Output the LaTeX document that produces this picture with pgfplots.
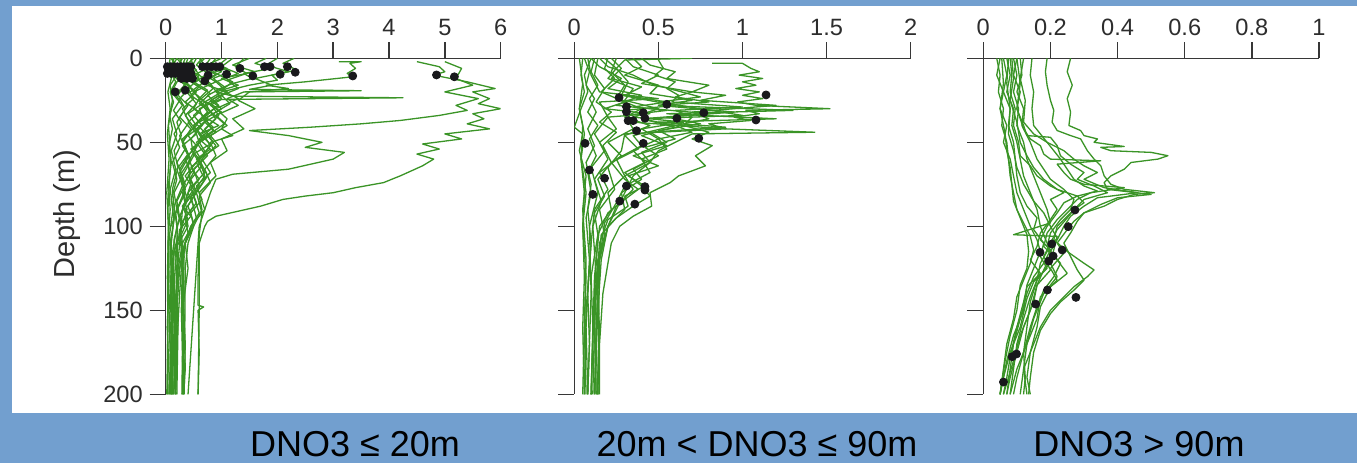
\documentclass[border=0pt]{standalone}
\usepackage{fontspec}
\setmainfont{Liberation Sans}
\usepackage{pgfplots}
\pgfplotsset{compat=1.18}
\definecolor{bgblue}{RGB}{114,159,207}
\definecolor{pgreen}{RGB}{58,148,38}
\definecolor{axc}{RGB}{55,55,55}
\definecolor{tlc}{RGB}{45,45,45}
\definecolor{dotc}{RGB}{25,25,28}
\pgfplotsset{
  prof/.style={
    scale only axis, height=168pt, y dir=reverse, ymin=0, ymax=200,
    axis x line=top, axis y line=left,
    axis line style={-, draw=axc, line width=0.7pt},
    tick align=outside, major tick length=8pt,
    tick style={draw=axc, line width=0.7pt},
    ytick={0,50,100,150,200},
    ticklabel style={font=\fontsize{11.8}{13}\selectfont, text=tlc},
    /pgf/number format/assume math mode=true,
  },
  gl/.style={pgreen, line width=0.65pt, no marks, line join=round},
  dots/.style={only marks, mark=*, mark size=2pt, color=dotc, mark options={draw=dotc, fill=dotc}},
}
\begin{document}
\begin{tikzpicture}[x=1pt,y=1pt]
\fill[bgblue] (0,0) rectangle (678.5,231.5);
\fill[white] (6,25) rectangle (678.5,228.5);
% ---------------- Panel 1 ----------------
\begin{axis}[prof, at={(82.85pt,34.35pt)}, anchor=south west, width=167.5pt,
  xmin=0, xmax=6, xtick={0,1,2,3,4,5,6}]
\addplot[gl] coordinates {(0.2,0)(0.15,3)(0.25,6)(0.1,9)(0.18,14)(0.08,20)(0.14,26)(0.07,34)(0.12,42)(0.06,52)(0.1,62)(0.05,75)(0.08,90)(0.04,110)(0.06,130)(0.03,160)(0.05,180)(0.03,200)};
\addplot[gl] coordinates {(0.5,0)(0.4,3)(0.55,7)(0.3,12)(0.45,17)(0.25,24)(0.35,30)(0.2,38)(0.28,46)(0.15,55)(0.22,65)(0.12,78)(0.16,92)(0.1,110)(0.12,130)(0.09,160)(0.11,185)(0.1,200)};
\addplot[gl] coordinates {(0.9,0)(0.8,4)(1.0,8)(0.7,13)(0.85,18)(0.6,25)(0.75,32)(0.5,40)(0.65,48)(0.4,58)(0.5,68)(0.3,80)(0.38,90)(0.25,105)(0.3,120)(0.28,150)(0.3,175)(0.29,200)};
\addplot[gl] coordinates {(1.2,0)(1.0,5)(1.3,9)(0.9,14)(1.1,20)(0.8,27)(0.95,34)(0.7,42)(0.85,50)(0.6,60)(0.75,70)(0.55,80)(0.65,92)(0.6,105)(0.58,130)(0.58,147)(0.68,148)(0.58,150)(0.6,175)(0.58,200)};
\addplot[gl] coordinates {(0.35,0)(0.3,4)(0.45,8)(0.2,12)(0.35,16)(0.15,22)(0.3,28)(0.12,36)(0.2,45)(0.1,55)(0.18,66)(0.08,78)(0.13,90)(0.07,105)(0.1,125)(0.06,150)(0.08,175)(0.07,200)};
\addplot[gl] coordinates {(0.7,0)(0.6,3)(0.75,6)(0.5,10)(0.65,15)(0.4,21)(0.55,27)(0.35,34)(0.5,41)(0.3,50)(0.42,58)(0.25,68)(0.35,78)(0.2,90)(0.28,100)(0.18,115)(0.2,140)(0.15,170)(0.17,185)(0.14,200)};
\addplot[gl] coordinates {(1.5,0)(1.2,4)(1.6,8)(1.0,12)(1.3,16)(0.9,20)(1.2,22.5)(4.25,23.5)(1.0,24.5)(0.8,28)(1.0,32)(0.7,38)(0.9,44)(0.6,50)(0.75,58)(0.5,66)(0.6,76)(0.4,88)(0.5,98)(0.35,110)(0.4,125)(0.32,145)(0.35,170)(0.33,200)};
\addplot[gl] coordinates {(2.0,0)(1.8,4)(2.2,8)(1.6,12)(1.9,16)(1.5,18.5)(3.5,19.3)(1.4,20)(1.1,24)(1.3,28)(0.9,34)(1.1,40)(0.8,46)(0.95,52)(0.6,60)(0.7,70)(0.45,82)(0.55,95)(0.3,110)(0.2,130)(0.15,160)(0.12,200)};
\addplot[gl] coordinates {(3.1,2)(3.5,2)(3.3,3)(3.4,6)(3.25,9)(3.35,11)(2.5,14)(1.8,16)(2.2,18)(1.5,20)(1.3,25)(1.6,30)(1.2,36)(1.4,42)(1.0,48)(1.1,55)(0.8,62)(0.9,70)(0.6,80)(0.7,90)(0.45,100)(0.3,115)(0.25,140)(0.2,170)(0.18,200)};
\addplot[gl] coordinates {(2.3,0)(2.1,3)(2.35,7)(1.9,10)(2.0,13)(1.5,16)(1.0,20)(0.7,26)(0.8,32)(0.5,40)(0.6,50)(0.4,62)(0.45,75)(0.3,90)(0.25,110)};
\addplot[gl] coordinates {(1.8,0)(1.6,3)(1.9,6)(1.4,9)(1.55,12)(1.2,15)(0.9,19)(1.0,24)(0.6,30)(0.7,38)(0.45,48)(0.5,58)(0.3,70)(0.35,85)(0.2,100)(0.22,130)(0.12,160)(0.1,200)};
\addplot[gl] coordinates {(1.0,0)(0.8,3)(1.1,6)(0.7,10)(0.9,14)(0.5,20)(0.7,26)(0.4,33)(0.55,40)(0.3,48)(0.4,57)(0.2,66)(0.3,76)(0.15,88)(0.2,100)(0.1,120)(0.12,150)(0.08,200)};
\addplot[gl] coordinates {(0.15,0)(0.1,5)(0.2,10)(0.08,16)(0.12,25)(0.05,40)(0.09,60)(0.04,90)(0.06,120)(0.03,160)(0.04,200)};
\addplot[gl] coordinates {(0.45,0)(0.5,5)(0.6,10)(0.8,15)(0.95,22)(0.7,28)(0.9,36)(0.65,44)(0.8,52)(0.55,62)(0.7,72)(0.5,82)(0.6,92)(0.45,100)(0.35,110)(0.3,125)(0.31,160)(0.3,200)};
\addplot[gl] coordinates {(0.6,0)(0.7,4)(0.9,9)(1.2,14)(1.0,19)(1.3,24)(0.9,30)(1.1,36)(1.0,42)(1.2,46)(0.8,50)(0.9,58)(0.7,66)(0.8,74)(0.6,82)(0.65,90)(0.5,100)(0.4,110)(0.35,125)(0.34,170)(0.35,185)(0.32,200)};
\addplot[gl] coordinates {(0.25,0)(0.3,5)(0.2,10)(0.35,15)(0.22,22)(0.4,28)(0.25,35)(0.45,42)(0.3,50)(0.4,58)(0.25,66)(0.35,75)(0.2,85)(0.25,95)(0.15,108)(0.14,130)(0.12,160)(0.13,200)};
\addplot[gl] coordinates {(0.8,0)(0.7,5)(0.9,10)(0.65,15)(1.1,20)(0.8,25)(1.0,30)(0.7,36)(0.85,43)(0.55,50)(0.7,57)(0.45,65)(0.6,72)(0.4,80)(0.5,88)(0.3,97)(0.25,110)(0.2,130)(0.18,160)(0.17,200)};
\addplot[gl] coordinates {(0.1,0)(0.2,6)(0.3,12)(0.45,18)(0.6,24)(0.5,30)(0.75,36)(0.55,42)(0.7,48)(0.45,54)(0.6,60)(0.35,70)(0.5,78)(0.3,88)(0.4,96)(0.28,105)(0.33,118)(0.31,150)(0.32,200)};
\addplot[gl] coordinates {(0.55,0)(0.45,6)(0.6,12)(0.4,18)(0.5,24)(0.3,30)(0.42,38)(0.25,46)(0.35,54)(0.2,62)(0.3,70)(0.15,80)(0.2,90)(0.1,100)};
\addplot[gl] coordinates {(0.4,0)(0.35,4)(0.5,9)(0.3,14)(0.55,20)(0.35,26)(0.6,32)(0.4,38)(0.55,45)(0.3,52)(0.45,60)(0.25,70)(0.35,80)(0.18,92)(0.22,105)(0.12,120)(0.14,150)(0.1,175)(0.12,200)};
\addplot[gl] coordinates {(0.65,0)(0.55,4)(0.75,9)(0.5,15)(0.8,21)(0.6,27)(0.85,33)(0.55,39)(0.75,46)(0.5,53)(0.65,61)(0.4,70)(0.55,79)(0.3,88)(0.45,94)(0.25,102)(0.3,115)(0.2,135)(0.22,160)(0.2,200)};
\addplot[gl] coordinates {(0.12,0)(0.18,4)(0.1,8)(0.22,13)(0.12,19)(0.25,25)(0.14,31)(0.28,38)(0.15,45)(0.25,53)(0.12,62)(0.2,72)(0.1,84)(0.15,96)(0.08,110)(0.1,130)(0.07,160)(0.09,180)(0.06,200)};
\addplot[gl] coordinates {(1.1,0)(0.95,4)(1.15,8)(0.85,12)(1.05,17)(0.75,22)(0.95,28)(0.65,35)(0.85,41)(0.6,48)(0.8,54)(0.55,60)(0.7,68)(0.45,77)(0.55,86)(0.35,95)(0.4,104)(0.3,115)(0.33,140)(0.3,170)(0.31,200)};
\addplot[gl] coordinates {(0.3,0)(0.25,3)(0.4,7)(0.6,10)(0.5,14)(0.75,19)(0.6,24)(0.9,29)(0.7,35)(0.95,40)(0.6,45)(0.8,51)(0.5,57)(0.65,64)(0.45,72)(0.55,80)(0.35,90)(0.4,100)(0.2,112)(0.16,130)(0.15,200)};
\addplot[gl] coordinates {(0.08,0)(0.05,6)(0.1,12)(0.04,20)(0.08,30)(0.03,45)(0.06,60)(0.02,80)(0.05,100)(0.03,130)(0.04,160)(0.02,200)};
\addplot[gl] coordinates {(1.4,0)(1.25,5)(1.45,9)(1.1,13)(1.3,18)(1.0,22)(1.15,27)(0.85,33)(1.05,39)(0.75,46)(0.9,52)(0.65,60)(0.8,68)(0.55,76)(0.65,84)(0.45,92)(0.5,100)(0.35,110)(0.25,125)(0.2,150)(0.18,200)};
\addplot[gl] coordinates {(0.2,0)(0.3,4)(0.45,8)(0.35,12)(0.6,17)(0.45,22)(0.7,28)(0.5,34)(0.65,40)(0.4,46)(0.55,52)(0.35,60)(0.45,68)(0.3,76)(0.4,84)(0.25,94)(0.3,100)(0.15,115)(0.11,140)(0.1,200)};
% high profiles
\addplot[gl] coordinates {(4.5,2)(4.9,5)(5.0,8)(4.8,10)(5.4,14)(5.9,18)(5.5,20)(5.8,24)(5.6,27)(6.0,30)(5.5,33)(5.7,36)(5.4,39)(5.8,42)(5.0,45)(5.3,48)(4.6,51)(4.9,54)(4.5,57)(4.8,60)(4.6,64)(4.2,70)(3.9,74)(3.4,77)(3.0,80)(2.5,82)(2.1,84)(1.7,88)(1.3,91)(0.9,94)(0.75,97)(0.7,100)(0.6,110)(0.6,150)(0.58,200)};
\addplot[gl] coordinates {(5.0,2)(5.3,6)(5.2,12)(5.5,16)(5.0,20)(5.6,24)(5.2,28)(5.4,31)(4.9,34)(4.2,37)(3.5,39)(2.6,41)(1.5,43)(2.2,46)(2.8,50)(2.5,53)(3.2,56)(3.0,60)(2.6,63)(2.2,66)(1.2,69)(0.9,72)(0.8,80)(0.6,100)(0.5,150)(0.4,200)};
\addplot[dots] coordinates {(0.03,5)(0.09,5)(0.15,5)(0.21,5)(0.27,5)(0.33,5)(0.39,5)(0.45,5)(0.66,5)(0.74,5)(0.82,5)(0.9,5)(0.97,5)(1.77,5)(1.87,5)(2.18,5)(1.33,6)
(0.03,9)(0.1,9)(0.17,9)(0.24,9)(0.31,9)(0.38,9)(0.45,9)(1.09,9.5)(2.05,9.5)(2.32,8.3)
(0.76,10)(1.56,10.5)(3.35,10.5)(4.85,9.9)(5.17,11)(0.28,12)(0.38,12)(0.48,12)(0.7,13.5)(0.17,20)(0.35,19)};
\end{axis}
% ---------------- Panel 2 ----------------
\begin{axis}[prof, at={(287.15pt,34.35pt)}, anchor=south west, width=168.2pt,
  xmin=0, xmax=2, xtick={0,0.5,1,1.5,2}, yticklabels={}]
\addplot[gl] coordinates {(0.05,0)(0.04,10)(0.06,20)(0.03,30)(0.05,40)(0.04,60)(0.06,80)(0.05,100)(0.06,130)(0.05,160)(0.06,200)};
\addplot[gl] coordinates {(0.12,0)(0.1,8)(0.14,16)(0.09,24)(0.13,32)(0.08,42)(0.12,52)(0.07,62)(0.1,75)(0.08,90)(0.1,110)(0.08,140)(0.09,170)(0.08,200)};
\addplot[gl] coordinates {(0.2,0)(0.18,6)(0.24,12)(0.16,20)(0.3,26)(0.18,30)(0.45,33)(0.2,35)(0.25,42)(0.15,50)(0.2,60)(0.12,72)(0.16,85)(0.11,100)(0.13,130)(0.12,160)(0.13,200)};
\addplot[gl] coordinates {(0.7,0)(0.3,1)(0.25,6)(0.32,14)(0.28,22)(0.6,28)(0.3,31)(0.35,38)(0.9,42)(0.3,45)(0.28,55)(0.2,65)(0.24,78)(0.15,90)(0.18,105)(0.13,130)(0.15,160)(0.14,200)};
\addplot[gl] coordinates {(0.5,1)(0.53,6)(0.48,10)(0.6,14)(0.55,18)(0.62,22)(0.58,26)(1.0,29)(0.6,31)(0.7,35)(0.65,40)(0.8,44)(0.7,48)(0.82,52)(0.72,58)(0.78,64)(0.62,70)(0.57,74)(0.45,80)(0.46,88)(0.35,94)(0.27,100)(0.22,110)(0.17,140)(0.15,170)(0.15,200)};
\addplot[gl] coordinates {(0.82,3)(1.0,3)(1.05,6)(1.1,8)(0.98,10)(1.12,12)(1.0,14)(1.08,16)(0.96,18)(1.1,20)(1.0,22)(1.12,24)(0.97,26)(1.08,28)(1.52,30)(1.02,31)(1.1,33)(0.95,35)(1.05,37)(0.8,39)(0.9,42)(1.43,44)(0.7,45)(0.6,50)(0.5,55)(0.45,62)(0.35,70)(0.3,80)(0.25,90)(0.2,100)(0.16,120)(0.14,150)(0.12,200)};
\addplot[gl] coordinates {(0.3,0)(0.35,5)(0.5,10)(0.4,15)(0.7,20)(0.6,23)(0.8,26)(0.5,28)(1.3,31)(0.55,33)(1.2,36)(0.5,38)(0.9,41)(0.45,44)(0.55,50)(0.4,56)(0.45,62)(0.3,70)(0.35,78)(0.25,88)(0.2,100)(0.14,120)(0.12,160)(0.11,200)};
\addplot[gl] coordinates {(0.15,0)(0.2,5)(0.35,10)(0.45,15)(0.6,19)(0.75,23)(0.5,26)(1.0,34)(0.4,36)(0.6,40)(0.35,46)(0.4,52)(0.25,60)(0.3,70)(0.2,80)(0.22,90)(0.15,100)(0.12,130)(0.1,200)};
\addplot[gl] coordinates {(0.08,0)(0.1,10)(0.15,20)(0.5,24)(0.15,26)(0.2,35)(0.12,45)(0.18,55)(0.1,65)(0.14,80)(0.09,100)(0.1,140)(0.08,200)};
\addplot[gl] coordinates {(0.25,0)(0.22,8)(0.3,16)(0.25,24)(0.4,30)(0.3,35)(0.45,40)(0.3,46)(0.38,54)(0.22,62)(0.3,72)(0.38,78)(0.3,84)(0.2,92)(0.14,105)(0.12,140)(0.1,200)};
\addplot[gl] coordinates {(0.1,0)(0.15,5)(0.28,12)(0.2,18)(0.4,22)(0.25,28)(0.55,31)(0.3,34)(0.35,42)(0.2,50)(0.28,58)(0.15,68)(0.2,78)(0.12,90)(0.1,110)(0.07,150)(0.06,200)};
\addplot[gl] coordinates {(0.18,0)(0.25,6)(0.2,12)(0.35,18)(0.3,25)(0.5,30)(0.35,35)(0.65,38)(0.4,42)(0.5,48)(0.35,55)(0.42,62)(0.3,68)(0.4,76)(0.45,82)(0.35,88)(0.25,95)(0.16,105)(0.14,130)(0.13,170)(0.14,200)};
\addplot[gl] coordinates {(0.4,0)(0.45,4)(0.6,8)(0.55,12)(0.8,16)(0.7,20)(0.9,22)(0.75,25)(1.2,28)(0.7,32)(0.8,36)(0.6,40)(0.7,44)(0.5,48)(0.55,54)(0.4,60)(0.45,68)(0.3,76)(0.25,86)(0.18,98)(0.15,120)(0.13,160)(0.12,200)};
\addplot[gl] coordinates {(0.1,0)(0.06,10)(0.08,20)(0.04,30)(0.0,41)(0.05,45)(0.03,55)(0.07,70)(0.05,90)(0.07,120)(0.06,160)(0.07,200)};
\addplot[gl] coordinates {(0.03,0)(0.05,15)(0.03,30)(0.06,45)(0.04,60)(0.07,80)(0.05,100)(0.07,130)(0.06,160)(0.05,200)};
\addplot[gl] coordinates {(0.14,0)(0.12,10)(0.18,18)(0.13,26)(0.22,32)(0.15,38)(0.25,44)(0.17,52)(0.22,62)(0.14,72)(0.18,82)(0.12,92)(0.14,105)(0.1,130)(0.11,160)(0.1,200)};
\addplot[gl] coordinates {(0.22,0)(0.28,6)(0.22,12)(0.4,17)(0.3,22)(0.55,26)(0.35,29)(0.8,33)(0.4,36)(0.6,41)(0.4,46)(0.55,52)(0.35,58)(0.5,64)(0.32,70)(0.42,76)(0.3,82)(0.32,88)(0.2,96)(0.15,110)(0.12,150)(0.13,200)};
\addplot[gl] coordinates {(0.06,0)(0.09,8)(0.07,16)(0.12,24)(0.08,32)(0.14,40)(0.09,48)(0.13,58)(0.08,68)(0.1,80)(0.07,95)(0.09,120)(0.07,160)(0.08,200)};
\addplot[gl] coordinates {(0.35,0)(0.4,5)(0.3,10)(0.5,16)(0.45,21)(0.7,25)(0.5,28)(0.95,32)(0.55,35)(0.75,39)(0.5,43)(0.6,48)(0.42,53)(0.5,58)(0.35,66)(0.4,72)(0.28,80)(0.3,90)(0.2,100)(0.15,120)(0.14,200)};
\addplot[dots] coordinates {(0.266,23.4)(0.31,28.8)(0.31,31.8)(0.41,32.4)(0.42,35.7)(0.32,37.1)(0.35,37.1)(0.55,27.4)(0.77,32.4)(0.61,35.7)(1.14,21.8)(1.08,36.7)(0.37,43.1)(0.74,47.6)(0.064,50.6)(0.41,50.6)(0.09,66.5)(0.18,71.4)(0.31,76)(0.42,76.4)(0.42,78.4)(0.11,81)(0.27,85)(0.36,86.8)};
\end{axis}
% ---------------- Panel 3 ----------------
\begin{axis}[prof, at={(491.65pt,34.35pt)}, anchor=south west, width=167.85pt,
  xmin=0, xmax=1, xtick={0,0.2,0.4,0.6,0.8,1}, yticklabels={}]
\addplot[gl] coordinates {(0.26,0)(0.25,8)(0.265,16)(0.25,24)(0.26,32)(0.255,40)(0.29,43)(0.3,46)(0.34,48)(0.33,50)(0.42,52.5)(0.35,53)(0.38,55)(0.5,56)(0.55,58)(0.52,60)(0.44,62)(0.42,66)(0.38,70)(0.36,74)(0.37,78)(0.5,81)(0.4,83)(0.35,87)(0.3,92)(0.27,97)(0.25,102)(0.22,110)(0.24,116)(0.2,125)(0.22,132)(0.17,142)(0.16,155)(0.13,170)(0.12,185)(0.13,200)};
\addplot[gl] coordinates {(0.19,0)(0.185,8)(0.19,16)(0.2,25)(0.21,31)(0.205,38)(0.22,43)(0.26,46)(0.29,48)(0.31,55)(0.33,60)(0.35,64)(0.36,70)(0.38,75)(0.42,78)(0.51,80)(0.45,81)(0.4,84)(0.36,88)(0.3,92)(0.28,97)(0.26,104)(0.24,110)(0.26,118)(0.28,126)(0.3,132)(0.27,138)(0.23,145)(0.2,152)(0.17,162)(0.15,175)(0.14,190)(0.135,200)};
\addplot[gl] coordinates {(0.145,0)(0.14,10)(0.15,20)(0.145,30)(0.15,40)(0.17,45)(0.19,50)(0.21,55)(0.23,60)(0.25,66)(0.27,72)(0.3,76)(0.34,79)(0.28,82)(0.3,86)(0.27,90)(0.25,95)(0.22,102)(0.2,110)(0.18,118)(0.2,126)(0.16,135)(0.15,145)(0.12,160)(0.1,175)(0.08,190)(0.07,200)};
\addplot[gl] coordinates {(0.05,0)(0.04,10)(0.06,20)(0.05,30)(0.07,40)(0.06,50)(0.08,60)(0.09,70)(0.1,80)(0.12,90)(0.14,100)(0.16,108)(0.17,115)(0.15,125)(0.13,135)(0.12,150)(0.09,165)(0.07,180)(0.05,200)};
\addplot[gl] coordinates {(0.07,0)(0.08,10)(0.07,20)(0.09,30)(0.085,40)(0.1,50)(0.11,60)(0.12,70)(0.14,80)(0.16,90)(0.17,100)(0.19,110)(0.2,118)(0.18,126)(0.16,135)(0.14,150)(0.11,165)(0.09,180)(0.06,200)};
\addplot[gl] coordinates {(0.09,0)(0.1,10)(0.09,20)(0.105,30)(0.1,40)(0.12,50)(0.13,60)(0.15,70)(0.17,80)(0.19,90)(0.2,98)(0.09,105)(0.22,106)(0.21,114)(0.2,122)(0.22,130)(0.18,140)(0.15,155)(0.13,170)(0.1,185)(0.08,200)};
\addplot[gl] coordinates {(0.11,0)(0.115,10)(0.1,20)(0.12,30)(0.115,40)(0.14,50)(0.16,60)(0.18,66)(0.2,72)(0.24,78)(0.27,84)(0.26,90)(0.23,96)(0.2,104)(0.19,112)(0.22,120)(0.25,128)(0.2,136)(0.17,148)(0.16,160)(0.14,175)(0.13,190)(0.14,200)};
\addplot[gl] coordinates {(0.06,0)(0.07,10)(0.06,20)(0.08,30)(0.075,40)(0.09,50)(0.095,60)(0.1,70)(0.11,80)(0.13,88)(0.16,95)(0.15,102)(0.18,110)(0.17,118)(0.19,125)(0.15,133)(0.13,143)(0.11,160)(0.08,175)(0.06,190)(0.05,200)};
\addplot[gl] coordinates {(0.1,0)(0.09,10)(0.11,20)(0.1,30)(0.12,40)(0.13,46)(0.2,47)(0.22,52)(0.23,58)(0.26,63)(0.3,68)(0.28,72)(0.33,76)(0.37,80)(0.3,84)(0.28,88)(0.25,94)(0.22,100)(0.21,108)(0.25,115)(0.3,122)(0.33,126)(0.31,130)(0.27,136)(0.24,142)(0.2,150)(0.17,160)(0.15,170)(0.12,185)(0.11,200)};
\addplot[gl] coordinates {(0.08,0)(0.085,10)(0.08,20)(0.095,30)(0.09,40)(0.105,50)(0.11,58)(0.14,64)(0.16,70)(0.2,76)(0.24,80)(0.2,84)(0.22,90)(0.2,96)(0.17,104)(0.16,112)(0.14,120)(0.17,128)(0.13,136)(0.12,145)(0.1,160)(0.08,178)(0.07,190)(0.06,200)};
\addplot[gl] coordinates {(0.04,0)(0.05,10)(0.045,20)(0.06,30)(0.055,40)(0.07,50)(0.075,60)(0.08,70)(0.09,80)(0.1,90)(0.12,98)(0.14,106)(0.15,114)(0.14,122)(0.12,132)(0.1,142)(0.09,155)(0.07,170)(0.06,185)(0.05,200)};
\addplot[gl] coordinates {(0.1,0)(0.11,15)(0.1,30)(0.12,42)(0.14,48)(0.17,52)(0.18,57)(0.2,60)(0.35,61)(0.22,63)(0.24,68)(0.26,72)(0.3,75)(0.42,77)(0.32,80)(0.28,84)(0.25,90)(0.22,96)(0.19,104)(0.18,112)(0.21,118)(0.19,124)(0.16,132)(0.14,142)(0.12,155)(0.1,170)(0.09,185)(0.08,200)};
\addplot[gl] coordinates {(0.075,0)(0.07,15)(0.08,30)(0.075,45)(0.09,55)(0.1,65)(0.12,75)(0.15,85)(0.18,92)(0.2,100)(0.22,107)(0.19,115)(0.17,122)(0.16,132)(0.14,145)(0.13,160)(0.12,175)(0.125,190)(0.12,200)};
\addplot[gl] coordinates {(0.085,0)(0.09,12)(0.08,25)(0.1,38)(0.11,50)(0.13,58)(0.15,65)(0.18,72)(0.22,78)(0.28,82)(0.24,86)(0.22,92)(0.19,100)(0.17,108)(0.2,114)(0.18,122)(0.15,130)(0.13,140)(0.11,155)(0.09,170)(0.08,185)(0.07,200)};
\addplot[gl] coordinates {(0.12,0)(0.11,12)(0.125,25)(0.12,38)(0.15,45)(0.19,50)(0.24,55)(0.27,60)(0.3,64)(0.34,68)(0.3,72)(0.36,77)(0.46,80)(0.34,83)(0.3,88)(0.26,94)(0.24,100)(0.22,108)(0.2,115)(0.23,122)(0.21,130)(0.18,138)(0.16,148)(0.14,160)(0.12,175)(0.1,190)(0.09,200)};
\addplot[gl] coordinates {(0.055,0)(0.06,15)(0.05,30)(0.065,45)(0.07,55)(0.08,65)(0.085,75)(0.09,85)(0.11,95)(0.13,105)(0.135,115)(0.13,125)(0.11,135)(0.1,150)(0.08,165)(0.065,180)(0.05,200)};
\addplot[dots] coordinates {(0.273,90.3)(0.253,100.2)(0.204,110.5)(0.169,115.5)(0.235,114.1)(0.208,117.7)(0.195,120.7)(0.191,137.9)(0.276,142.3)(0.156,146.3)(0.099,176)(0.086,177.6)(0.06,192.7)};
\end{axis}
\node[rotate=90, font=\fontsize{14.5}{16}\selectfont, text=tlc] at (33.3,124.5) {Depth (m)};
\node[anchor=base, font=\fontsize{18}{20}\selectfont] at (177.5,3.3) {DNO3 ≤ 20m};
\node[anchor=base, font=\fontsize{18}{20}\selectfont] at (378.5,3.3) {20m < DNO3 ≤ 90m};
\node[anchor=base, font=\fontsize{18}{20}\selectfont] at (569.5,3.3) {DNO3 > 90m};
\pgfresetboundingbox
\useasboundingbox (0,0) rectangle (678.5,231.5);
\end{tikzpicture}
\end{document}
